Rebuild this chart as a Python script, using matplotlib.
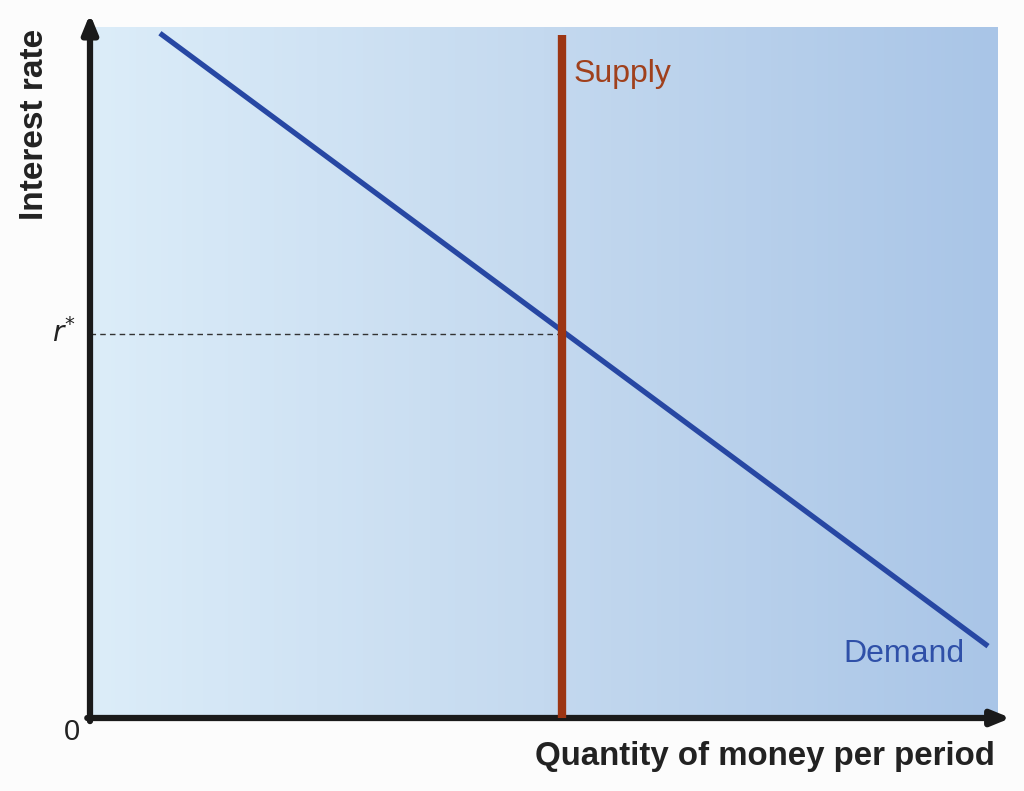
import numpy as np
import matplotlib.pyplot as plt
from matplotlib.colors import LinearSegmentedColormap

plt.rcParams['font.family'] = ['Liberation Sans', 'DejaVu Sans']

# curves (arbitrary units, axes run 0..100)
demand_x = [7.7, 98.9]
demand_y = [99.1, 10.4]
supply_q = 52.0
supply_y = [0, 98.8]

# r* where the demand curve meets supply
slope = (demand_y[1] - demand_y[0]) / (demand_x[1] - demand_x[0])
r_star = demand_y[0] + slope * (supply_q - demand_x[0])

fig = plt.figure(figsize=(10.24, 7.91), dpi=100)
fig.patch.set_facecolor('#fcfcfc')
ax = fig.add_axes([90 / 1024, 73 / 791, 908 / 1024, 691 / 791])
ax.set_xlim(0, 100)
ax.set_ylim(0, 100)

# background gradient
cmap = LinearSegmentedColormap.from_list('bg', ['#dcedf9', '#c4d9ef', '#a9c5e7'])
grad = np.linspace(0, 1, 256).reshape(1, -1)
ax.imshow(grad, extent=[0, 100, 0, 100], aspect='auto', cmap=cmap, zorder=0)

ax.plot(demand_x, demand_y, color='#2747a3', lw=3.8, solid_capstyle='butt', zorder=3)
ax.plot([supply_q, supply_q], supply_y, color='#9c3513', lw=6, solid_capstyle='butt', zorder=4)
ax.plot([0, supply_q], [r_star - 0.5, r_star - 0.5], color='#333333', lw=1, ls=(0, (4, 3)), zorder=2)

ax.text(supply_q + 1.3, 93.2, 'Supply', color='#a0401c', fontsize=23, va='center')
ax.text(96.3, 9.3, 'Demand', color='#2f50a8', fontsize=23, va='center', ha='right')

for s in ax.spines.values():
    s.set_visible(False)
ax.set_xticks([])
ax.set_yticks([])

# axes with arrows
arrow = dict(arrowstyle='-|>,head_width=0.45,head_length=1.1',
             lw=4.5, color='#1a1a1a', shrinkA=0, shrinkB=0)
ax.annotate('', xy=(0, 101.9), xytext=(0, -0.45), arrowprops=arrow, annotation_clip=False)
ax.annotate('', xy=(101.4, 0), xytext=(-0.3, 0), arrowprops=arrow, annotation_clip=False)

ax.text(-1.6, r_star - 0.3, r'$r^{*}$', fontsize=20, ha='right', va='center', color='#222222')
ax.text(-1.1, -2.0, '0', fontsize=21, ha='right', va='center', color='#222222')

fig.text(35 / 1024, 1 - 124 / 791, 'Interest rate', rotation=90, fontsize=24,
         fontweight='bold', ha='center', va='center', color='#222222')
fig.text(995 / 1024, 1 - 757 / 791, 'Quantity of money per period', fontsize=23.8,
         fontweight='bold', ha='right', va='center', color='#222222')

fig.savefig('out.png', dpi=100, facecolor=fig.get_facecolor())
